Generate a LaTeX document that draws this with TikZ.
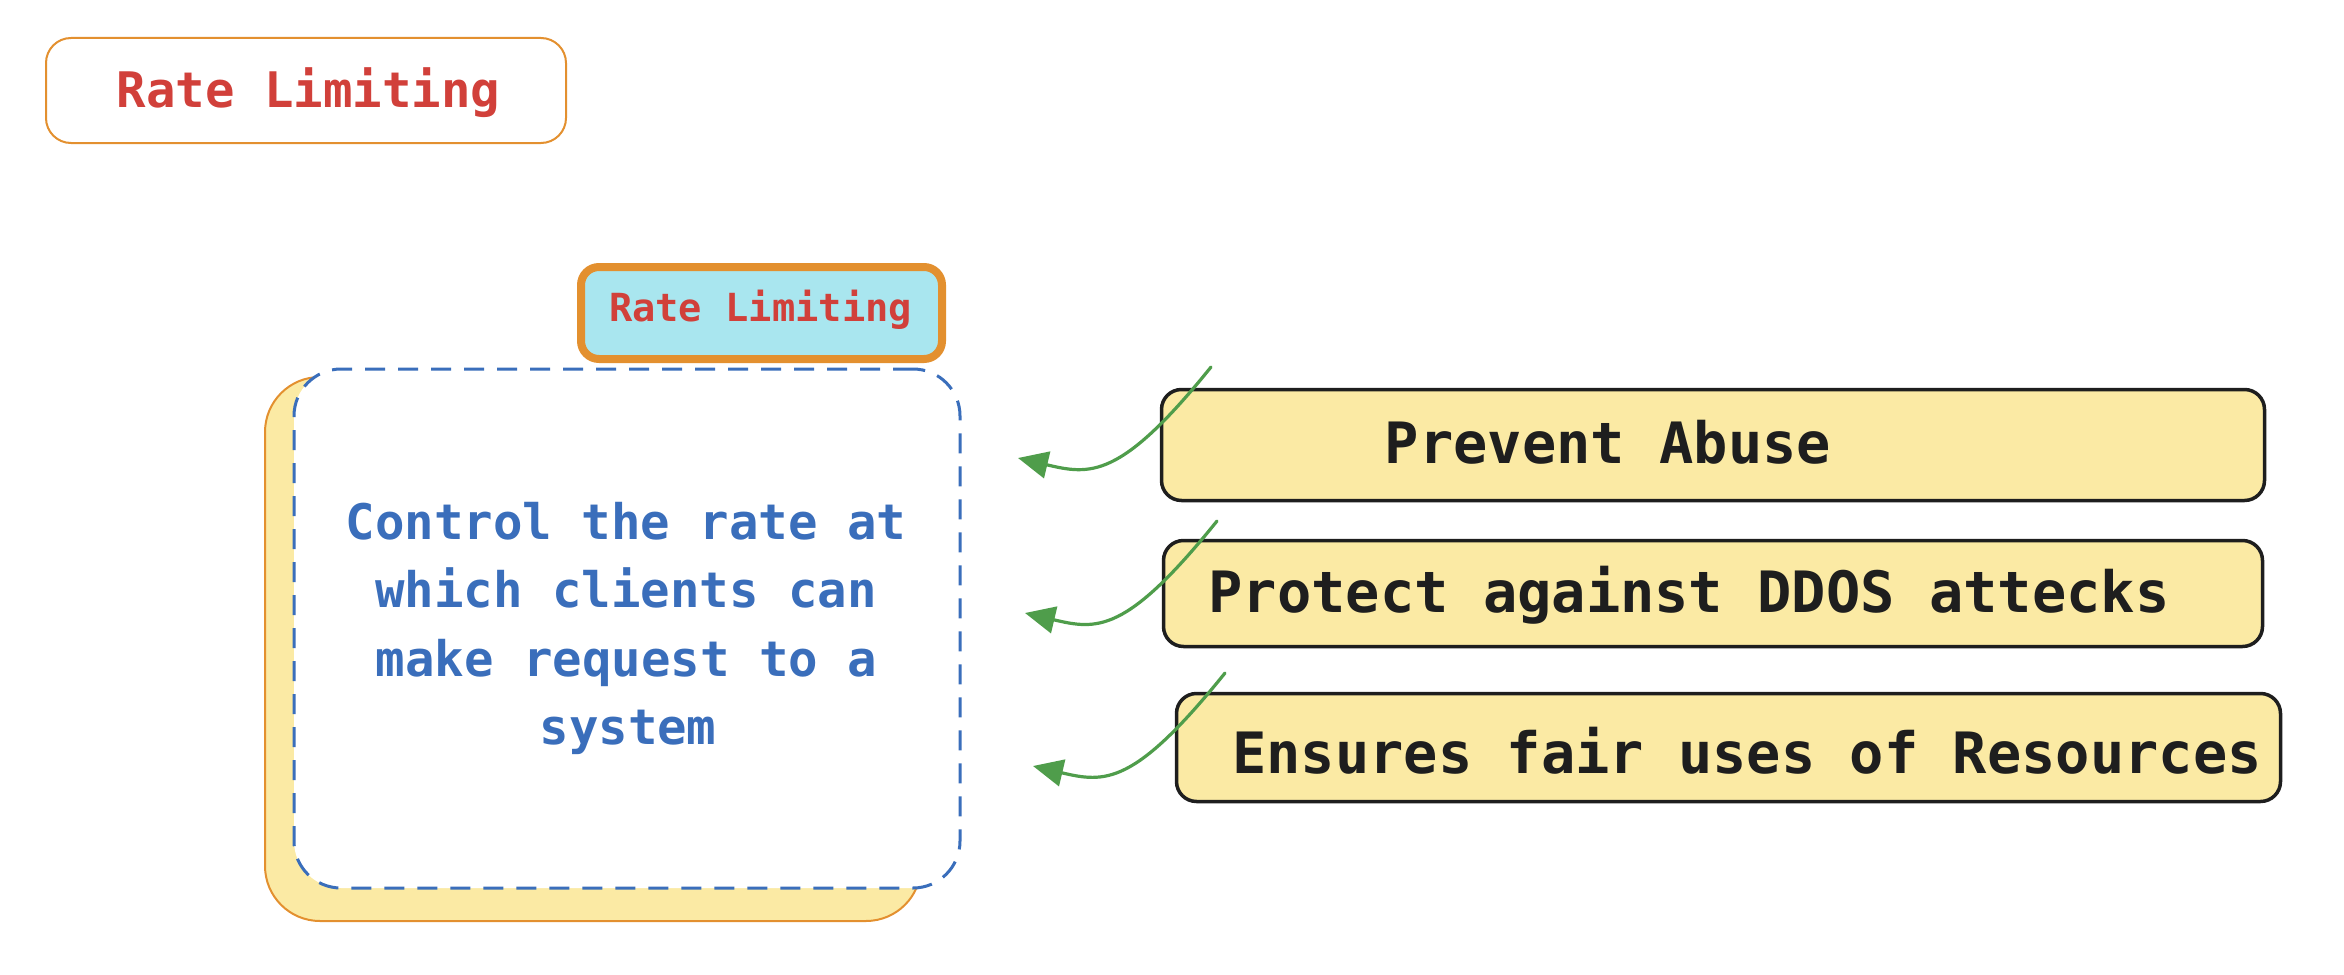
\documentclass[tikz,border=0pt]{standalone}
\usepackage{fontspec}
\setmonofont{DejaVu Sans Mono}
\usetikzlibrary{arrows.meta}
\definecolor{exred}{HTML}{D1403A}
\definecolor{exorange}{HTML}{E3902F}
\definecolor{excyan}{HTML}{A9E6EF}
\definecolor{exyellow}{HTML}{FBEAA4}
\definecolor{exblue}{HTML}{3A6EBB}
\definecolor{exgreen}{HTML}{4F9D4B}
\definecolor{exblack}{HTML}{1E1E1E}
\begin{document}
\begin{tikzpicture}[x=1pt,y=-1pt,
  box/.style={draw, rectangle, inner sep=0pt},
  titlebox/.style={box, draw=exorange, line width=2pt, rounded corners=25pt, fill=white},
  backbox/.style={box, draw=exorange, line width=2pt, rounded corners=55pt, fill=exyellow},
  dashbox/.style={box, draw=exblue, line width=3pt, rounded corners=47pt, fill=white, dash pattern=on 20pt off 13pt},
  cyanbox/.style={box, draw=exorange, line width=8pt, rounded corners=18pt, fill=excyan},
  itembox/.style={box, draw=exblack, line width=3.5pt, rounded corners=20pt, fill=exyellow},
  txt/.style={anchor=base, inner sep=0pt, font=\ttfamily\bfseries},
  bluetxt/.style={txt, text=exblue, font=\ttfamily\bfseries\fontsize{49}{68}\selectfont},
  itemtxt/.style={txt, text=exblack, font=\ttfamily\bfseries\fontsize{57}{68}\selectfont},
  arr/.style={draw=exgreen, line width=3.2pt, line cap=round, -{Triangle[length=30pt,width=27pt]}}
]
\useasboundingbox (0,0) rectangle (2344,974);

% top-left title
\node[titlebox, minimum width=520pt, minimum height=105pt] (tl) at (306,90.5) {};
\node[txt, text=exred, font=\ttfamily\bfseries\fontsize{49}{58}\selectfont] (tlt) at (308.5,107) {Rate Limiting};

% main concept
\node[backbox, minimum width=656pt, minimum height=544pt] (back) at (593,649) {};
\node[dashbox, minimum width=666pt, minimum height=519pt] (dash) at (627,628.5) {};
\node[cyanbox, minimum width=361pt, minimum height=92pt] (cy) at (761.5,313) {};
\node[txt, text=exred, font=\ttfamily\bfseries\fontsize{38.7}{46}\selectfont] (cyt) at (760.5,321) {Rate Limiting};

\node[bluetxt] (l1) at (626,539) {Control the rate at};
\node[bluetxt] (l2) at (626,607) {which clients can};
\node[bluetxt] (l3) at (626.5,676) {make request to a};
\node[bluetxt] (l4) at (628,744) {system};

% items
\node[itembox, minimum width=1103pt, minimum height=111pt] (b1) at (1713,445) {};
\node[itemtxt] (b1t) at (1608,463) {Prevent Abuse};
\node[itembox, minimum width=1099pt, minimum height=106pt] (b2) at (1713,593.5) {};
\node[itemtxt] (b2t) at (1689,612) {Protect against DDOS attecks};
\node[itembox, minimum width=1104pt, minimum height=108pt] (b3) at (1728.5,747.5) {};
\node[itemtxt] (b3t) at (1747,773) {Ensures fair uses of Resources};

% arrows
\coordinate (a1s) at (1211,367);
\coordinate (a1e) at (1018,458);
\coordinate (a2s) at (1217,521);
\coordinate (a2e) at (1025,613);
\coordinate (a3s) at (1225,673);
\coordinate (a3e) at (1033,766);
\draw[arr] (a1s) .. controls +(-91,113) and +(72,17) .. (a1e);
\draw[arr] (a2s) .. controls +(-91,113) and +(72,17) .. (a2e);
\draw[arr] (a3s) .. controls +(-91,113) and +(72,17) .. (a3e);
\end{tikzpicture}
\end{document}
